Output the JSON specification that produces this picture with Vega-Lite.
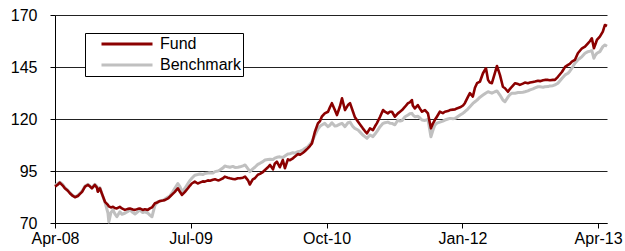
{
  "$schema": "https://vega.github.io/schema/vega-lite/v6.json",
  "width": 552,
  "height": 208,
  "autosize": "none",
  "padding": {"left": 55, "top": 15, "right": 18, "bottom": 28},
  "background": "white",
  "config": {
    "view": {"stroke": null},
    "font": "Liberation Sans"
  },
  "data": {"values": [
    {"d":"2008-04-01","Fund":87.5,"Benchmark":88},
    {"d":"2008-04-11","Fund":88.5,"Benchmark":89},
    {"d":"2008-04-17","Fund":89.4,"Benchmark":89.6},
    {"d":"2008-04-27","Fund":88,"Benchmark":88.5},
    {"d":"2008-05-04","Fund":86.7,"Benchmark":87},
    {"d":"2008-05-14","Fund":85.5,"Benchmark":85.8},
    {"d":"2008-05-21","Fund":84.3,"Benchmark":84.6},
    {"d":"2008-05-31","Fund":83,"Benchmark":83.2},
    {"d":"2008-06-07","Fund":82.4,"Benchmark":82.6},
    {"d":"2008-06-17","Fund":83,"Benchmark":83.3},
    {"d":"2008-06-24","Fund":84,"Benchmark":84.3},
    {"d":"2008-07-01","Fund":85,"Benchmark":85.3},
    {"d":"2008-07-11","Fund":87.5,"Benchmark":87.8},
    {"d":"2008-07-21","Fund":88.3,"Benchmark":88.6},
    {"d":"2008-07-28","Fund":87.5,"Benchmark":87.7},
    {"d":"2008-08-03","Fund":86.7,"Benchmark":87},
    {"d":"2008-08-13","Fund":88.3,"Benchmark":88.6},
    {"d":"2008-08-20","Fund":87,"Benchmark":87.5},
    {"d":"2008-08-23","Fund":85,"Benchmark":85.5},
    {"d":"2008-08-30","Fund":86.7,"Benchmark":87},
    {"d":"2008-09-06","Fund":84,"Benchmark":84},
    {"d":"2008-09-16","Fund":80.2,"Benchmark":80},
    {"d":"2008-09-26","Fund":78.7,"Benchmark":74.8},
    {"d":"2008-09-29","Fund":78,"Benchmark":70.5},
    {"d":"2008-10-06","Fund":77.5,"Benchmark":75},
    {"d":"2008-10-13","Fund":77.8,"Benchmark":76.3},
    {"d":"2008-10-19","Fund":77.2,"Benchmark":74.5},
    {"d":"2008-10-26","Fund":77,"Benchmark":73},
    {"d":"2008-11-05","Fund":77.8,"Benchmark":75.4},
    {"d":"2008-11-12","Fund":77,"Benchmark":74.2},
    {"d":"2008-11-22","Fund":76.3,"Benchmark":74.7},
    {"d":"2008-12-02","Fund":76.8,"Benchmark":75.5},
    {"d":"2008-12-09","Fund":77,"Benchmark":76.3},
    {"d":"2008-12-19","Fund":76.5,"Benchmark":75},
    {"d":"2008-12-26","Fund":76.3,"Benchmark":74.3},
    {"d":"2009-01-05","Fund":76.8,"Benchmark":75.5},
    {"d":"2009-01-11","Fund":77,"Benchmark":76.3},
    {"d":"2009-01-21","Fund":76.3,"Benchmark":75},
    {"d":"2009-01-28","Fund":76.6,"Benchmark":75.4},
    {"d":"2009-02-07","Fund":76.3,"Benchmark":74.8},
    {"d":"2009-02-14","Fund":77,"Benchmark":73.8},
    {"d":"2009-02-21","Fund":77.5,"Benchmark":73},
    {"d":"2009-03-03","Fund":79.5,"Benchmark":78.5},
    {"d":"2009-03-13","Fund":80,"Benchmark":80.3},
    {"d":"2009-03-20","Fund":80.6,"Benchmark":80.4},
    {"d":"2009-03-30","Fund":80.8,"Benchmark":81},
    {"d":"2009-04-05","Fund":81,"Benchmark":81.4},
    {"d":"2009-04-16","Fund":81.8,"Benchmark":82.5},
    {"d":"2009-04-22","Fund":82.6,"Benchmark":83},
    {"d":"2009-05-02","Fund":84,"Benchmark":85},
    {"d":"2009-05-09","Fund":85,"Benchmark":86.7},
    {"d":"2009-05-19","Fund":86.7,"Benchmark":89},
    {"d":"2009-05-26","Fund":85,"Benchmark":87.5},
    {"d":"2009-06-02","Fund":83.5,"Benchmark":85},
    {"d":"2009-06-12","Fund":85,"Benchmark":86.7},
    {"d":"2009-06-22","Fund":86.7,"Benchmark":89},
    {"d":"2009-06-29","Fund":88,"Benchmark":90.5},
    {"d":"2009-07-05","Fund":89,"Benchmark":91.5},
    {"d":"2009-07-15","Fund":89.9,"Benchmark":93},
    {"d":"2009-07-25","Fund":89,"Benchmark":93.3},
    {"d":"2009-08-01","Fund":89.4,"Benchmark":93.6},
    {"d":"2009-08-11","Fund":90,"Benchmark":93.3},
    {"d":"2009-08-18","Fund":89.9,"Benchmark":93.8},
    {"d":"2009-08-28","Fund":90.5,"Benchmark":94},
    {"d":"2009-09-04","Fund":90.3,"Benchmark":94.2},
    {"d":"2009-09-14","Fund":90.8,"Benchmark":94},
    {"d":"2009-09-21","Fund":91,"Benchmark":94.7},
    {"d":"2009-10-01","Fund":90.5,"Benchmark":95},
    {"d":"2009-10-07","Fund":90.7,"Benchmark":95.5},
    {"d":"2009-10-18","Fund":91.5,"Benchmark":96.5},
    {"d":"2009-10-24","Fund":92.3,"Benchmark":97.4},
    {"d":"2009-11-03","Fund":91.8,"Benchmark":97},
    {"d":"2009-11-10","Fund":91.5,"Benchmark":96.8},
    {"d":"2009-11-20","Fund":91.2,"Benchmark":97.2},
    {"d":"2009-11-27","Fund":91,"Benchmark":96.7},
    {"d":"2009-12-07","Fund":91.5,"Benchmark":96.8},
    {"d":"2009-12-14","Fund":91.5,"Benchmark":97},
    {"d":"2009-12-24","Fund":91.8,"Benchmark":97.5},
    {"d":"2009-12-31","Fund":92.3,"Benchmark":97.9},
    {"d":"2010-01-10","Fund":90.5,"Benchmark":96},
    {"d":"2010-01-16","Fund":88.5,"Benchmark":94.7},
    {"d":"2010-01-26","Fund":91,"Benchmark":96},
    {"d":"2010-02-02","Fund":91.5,"Benchmark":96.8},
    {"d":"2010-02-12","Fund":93.2,"Benchmark":98.2},
    {"d":"2010-02-19","Fund":93.6,"Benchmark":98.7},
    {"d":"2010-03-01","Fund":94.5,"Benchmark":99.5},
    {"d":"2010-03-08","Fund":95.5,"Benchmark":100.3},
    {"d":"2010-03-18","Fund":96.8,"Benchmark":100.5},
    {"d":"2010-03-25","Fund":97.9,"Benchmark":100.6},
    {"d":"2010-04-04","Fund":95.8,"Benchmark":100.5},
    {"d":"2010-04-10","Fund":98.5,"Benchmark":101.2},
    {"d":"2010-04-17","Fund":99.5,"Benchmark":101.6},
    {"d":"2010-04-27","Fund":96.8,"Benchmark":101.8},
    {"d":"2010-05-07","Fund":100.3,"Benchmark":101.5},
    {"d":"2010-05-14","Fund":96.3,"Benchmark":102.2},
    {"d":"2010-05-24","Fund":100.6,"Benchmark":103.2},
    {"d":"2010-05-31","Fund":100.2,"Benchmark":103.3},
    {"d":"2010-06-10","Fund":101.1,"Benchmark":103.8},
    {"d":"2010-06-17","Fund":102,"Benchmark":103.6},
    {"d":"2010-06-27","Fund":103.2,"Benchmark":104.3},
    {"d":"2010-07-04","Fund":102.8,"Benchmark":104.5},
    {"d":"2010-07-14","Fund":103.8,"Benchmark":105.1},
    {"d":"2010-07-20","Fund":104.5,"Benchmark":105.8},
    {"d":"2010-07-30","Fund":105.9,"Benchmark":106.7},
    {"d":"2010-08-06","Fund":107,"Benchmark":107.8},
    {"d":"2010-08-13","Fund":108.3,"Benchmark":109.1},
    {"d":"2010-08-23","Fund":113.9,"Benchmark":112.3},
    {"d":"2010-09-02","Fund":117.9,"Benchmark":115.1},
    {"d":"2010-09-09","Fund":119,"Benchmark":116.5},
    {"d":"2010-09-15","Fund":121.1,"Benchmark":117.1},
    {"d":"2010-09-25","Fund":122.7,"Benchmark":117.9},
    {"d":"2010-10-06","Fund":123.5,"Benchmark":116.3},
    {"d":"2010-10-12","Fund":125.5,"Benchmark":117},
    {"d":"2010-10-19","Fund":127.6,"Benchmark":118.2},
    {"d":"2010-10-29","Fund":124.3,"Benchmark":116.6},
    {"d":"2010-11-05","Fund":121.9,"Benchmark":116.8},
    {"d":"2010-11-15","Fund":126,"Benchmark":117.5},
    {"d":"2010-11-22","Fund":130,"Benchmark":117.9},
    {"d":"2010-12-02","Fund":124.3,"Benchmark":116.3},
    {"d":"2010-12-12","Fund":126.7,"Benchmark":118.2},
    {"d":"2010-12-19","Fund":127.6,"Benchmark":118.5},
    {"d":"2010-12-29","Fund":123.5,"Benchmark":116.3},
    {"d":"2011-01-04","Fund":121,"Benchmark":115.5},
    {"d":"2011-01-15","Fund":118.7,"Benchmark":114.7},
    {"d":"2011-01-21","Fund":117.5,"Benchmark":113.8},
    {"d":"2011-01-31","Fund":115.5,"Benchmark":112.3},
    {"d":"2011-02-07","Fund":114.2,"Benchmark":111.5},
    {"d":"2011-02-14","Fund":113.1,"Benchmark":110.7},
    {"d":"2011-02-24","Fund":115.5,"Benchmark":112.3},
    {"d":"2011-03-06","Fund":114.7,"Benchmark":111.5},
    {"d":"2011-03-13","Fund":116.5,"Benchmark":112.8},
    {"d":"2011-03-19","Fund":117.9,"Benchmark":113.9},
    {"d":"2011-03-30","Fund":121.1,"Benchmark":116.3},
    {"d":"2011-04-09","Fund":124.3,"Benchmark":117.9},
    {"d":"2011-04-15","Fund":123.5,"Benchmark":118.2},
    {"d":"2011-04-25","Fund":122.7,"Benchmark":118.5},
    {"d":"2011-05-02","Fund":123.5,"Benchmark":118},
    {"d":"2011-05-09","Fund":123.5,"Benchmark":117.9},
    {"d":"2011-05-19","Fund":121.1,"Benchmark":117.2},
    {"d":"2011-05-29","Fund":122.7,"Benchmark":119.5},
    {"d":"2011-06-05","Fund":123.5,"Benchmark":119},
    {"d":"2011-06-12","Fund":124.3,"Benchmark":119.3},
    {"d":"2011-06-22","Fund":125.9,"Benchmark":121.1},
    {"d":"2011-07-02","Fund":127.6,"Benchmark":121.9},
    {"d":"2011-07-08","Fund":128,"Benchmark":122.5},
    {"d":"2011-07-15","Fund":129.1,"Benchmark":122.7},
    {"d":"2011-07-18","Fund":126.5,"Benchmark":122},
    {"d":"2011-07-25","Fund":125.1,"Benchmark":121.1},
    {"d":"2011-08-04","Fund":126.7,"Benchmark":121.3},
    {"d":"2011-08-11","Fund":125,"Benchmark":120.5},
    {"d":"2011-08-18","Fund":123.5,"Benchmark":119.5},
    {"d":"2011-08-28","Fund":124.3,"Benchmark":119.3},
    {"d":"2011-09-07","Fund":122.7,"Benchmark":119.8},
    {"d":"2011-09-17","Fund":115.5,"Benchmark":111.5},
    {"d":"2011-09-24","Fund":117.9,"Benchmark":114.7},
    {"d":"2011-09-30","Fund":119.5,"Benchmark":117},
    {"d":"2011-10-07","Fund":121.1,"Benchmark":118},
    {"d":"2011-10-17","Fund":123.5,"Benchmark":118.5},
    {"d":"2011-10-27","Fund":122.8,"Benchmark":119},
    {"d":"2011-11-03","Fund":123.5,"Benchmark":119.5},
    {"d":"2011-11-13","Fund":123.8,"Benchmark":120},
    {"d":"2011-11-20","Fund":124.3,"Benchmark":120.3},
    {"d":"2011-11-30","Fund":124.5,"Benchmark":120.1},
    {"d":"2011-12-07","Fund":124.6,"Benchmark":120.3},
    {"d":"2011-12-13","Fund":125.1,"Benchmark":120.8},
    {"d":"2011-12-24","Fund":125.6,"Benchmark":121.9},
    {"d":"2012-01-03","Fund":126.5,"Benchmark":122.8},
    {"d":"2012-01-09","Fund":127.6,"Benchmark":123.5},
    {"d":"2012-01-19","Fund":130.5,"Benchmark":124.8},
    {"d":"2012-01-26","Fund":132.4,"Benchmark":125.9},
    {"d":"2012-02-05","Fund":130.8,"Benchmark":127.5},
    {"d":"2012-02-12","Fund":135,"Benchmark":128.3},
    {"d":"2012-02-19","Fund":137.2,"Benchmark":129.1},
    {"d":"2012-02-29","Fund":138,"Benchmark":130.5},
    {"d":"2012-03-10","Fund":142,"Benchmark":131.5},
    {"d":"2012-03-20","Fund":144.4,"Benchmark":132.5},
    {"d":"2012-03-27","Fund":138.8,"Benchmark":133.1},
    {"d":"2012-04-02","Fund":137.5,"Benchmark":132.8},
    {"d":"2012-04-09","Fund":137.2,"Benchmark":132.4},
    {"d":"2012-04-19","Fund":142,"Benchmark":133.1},
    {"d":"2012-04-26","Fund":145.5,"Benchmark":133.5},
    {"d":"2012-05-06","Fund":141.2,"Benchmark":131.5},
    {"d":"2012-05-16","Fund":135.5,"Benchmark":129.1},
    {"d":"2012-05-23","Fund":134.8,"Benchmark":128.3},
    {"d":"2012-06-02","Fund":133.1,"Benchmark":130.5},
    {"d":"2012-06-09","Fund":134.5,"Benchmark":131.8},
    {"d":"2012-06-15","Fund":135.5,"Benchmark":132.4},
    {"d":"2012-06-26","Fund":137.2,"Benchmark":132.4},
    {"d":"2012-07-06","Fund":136.8,"Benchmark":132.7},
    {"d":"2012-07-12","Fund":136.4,"Benchmark":132.7},
    {"d":"2012-07-22","Fund":137,"Benchmark":132.9},
    {"d":"2012-07-29","Fund":137.5,"Benchmark":133.1},
    {"d":"2012-08-08","Fund":137.2,"Benchmark":133.5},
    {"d":"2012-08-15","Fund":137.5,"Benchmark":134},
    {"d":"2012-08-25","Fund":137.8,"Benchmark":134.5},
    {"d":"2012-09-01","Fund":138,"Benchmark":135},
    {"d":"2012-09-11","Fund":138.4,"Benchmark":135.5},
    {"d":"2012-09-18","Fund":138.2,"Benchmark":135.5},
    {"d":"2012-09-28","Fund":138.6,"Benchmark":135.3},
    {"d":"2012-10-04","Fund":138.8,"Benchmark":135.5},
    {"d":"2012-10-15","Fund":138.8,"Benchmark":135.6},
    {"d":"2012-10-21","Fund":138.6,"Benchmark":135.9},
    {"d":"2012-10-31","Fund":138.8,"Benchmark":136},
    {"d":"2012-11-07","Fund":138.8,"Benchmark":136.4},
    {"d":"2012-11-17","Fund":140.3,"Benchmark":137.2},
    {"d":"2012-11-24","Fund":141.5,"Benchmark":138.4},
    {"d":"2012-12-01","Fund":142.7,"Benchmark":139.6},
    {"d":"2012-12-11","Fund":145.1,"Benchmark":141.2},
    {"d":"2012-12-21","Fund":146,"Benchmark":142},
    {"d":"2012-12-27","Fund":146.5,"Benchmark":143},
    {"d":"2013-01-03","Fund":147.6,"Benchmark":144.4},
    {"d":"2013-01-13","Fund":148.4,"Benchmark":146.8},
    {"d":"2013-01-23","Fund":151.6,"Benchmark":148.4},
    {"d":"2013-01-30","Fund":152.8,"Benchmark":149.2},
    {"d":"2013-02-06","Fund":154,"Benchmark":150},
    {"d":"2013-02-16","Fund":154.8,"Benchmark":151.6},
    {"d":"2013-02-26","Fund":156.4,"Benchmark":152.4},
    {"d":"2013-03-05","Fund":157.5,"Benchmark":152.6},
    {"d":"2013-03-11","Fund":158.8,"Benchmark":152.9},
    {"d":"2013-03-18","Fund":154,"Benchmark":149.2},
    {"d":"2013-03-22","Fund":155.5,"Benchmark":150.5},
    {"d":"2013-03-28","Fund":158,"Benchmark":151.6},
    {"d":"2013-04-07","Fund":159.6,"Benchmark":152.4},
    {"d":"2013-04-17","Fund":162,"Benchmark":154.8},
    {"d":"2013-04-24","Fund":165.2,"Benchmark":155.6},
    {"d":"2013-05-01","Fund":164.7,"Benchmark":155}
  ]},
  "encoding": {
    "x": {
      "field": "d", "type": "temporal", "title": null,
      "scale": {"type": "utc", "domain": [{"year": 2008, "month": 4, "date": 1, "utc": true}, {"year": 2013, "month": 5, "date": 1, "utc": true}]},
      "axis": {
        "values": [
          {"year": 2008, "month": 4, "date": 1, "utc": true},
          {"year": 2009, "month": 7, "date": 1, "utc": true},
          {"year": 2010, "month": 10, "date": 1, "utc": true},
          {"year": 2012, "month": 1, "date": 1, "utc": true},
          {"year": 2013, "month": 4, "date": 1, "utc": true}
        ],
        "format": "%b-%y",
        "grid": false,
        "domainColor": "black", "domainWidth": 1,
        "tickColor": "black", "tickSize": 5, "tickWidth": 1,
        "labelFont": "Liberation Sans", "labelFontSize": 16, "labelColor": "black",
        "labelPadding": 2, "labelFlush": false, "labelOverlap": false
      }
    }
  },
  "layer": [
    {
      "mark": {"type": "line", "strokeWidth": 3, "strokeJoin": "round"},
      "encoding": {
        "y": {
          "field": "Benchmark", "type": "quantitative", "title": null,
          "scale": {"domain": [70, 170], "nice": false, "zero": false},
          "axis": {
            "values": [70, 95, 120, 145, 170],
            "grid": true, "gridColor": "#222222", "gridWidth": 1, "gridOpacity": 1,
            "domainColor": "black", "domainWidth": 1,
            "tickColor": "black", "tickSize": 5, "tickWidth": 1,
            "labelFont": "Liberation Sans", "labelFontSize": 16, "labelColor": "black",
            "labelPadding": 13
          }
        },
        "color": {
          "datum": "Benchmark",
          "scale": {"domain": ["Fund", "Benchmark"], "range": ["#8B0000", "#C0C0C0"]},
          "legend": {
            "title": null,
            "orient": "none",
            "legendX": 30,
            "legendY": 18,
            "direction": "vertical",
            "symbolType": "stroke",
            "symbolSize": 2601,
            "symbolStrokeWidth": 3,
            "symbolOffset": 13,
            "clipHeight": 18,
            "labelFont": "Liberation Sans",
            "labelFontSize": 16,
            "labelColor": "black",
            "labelOffset": 6,
            "labelExpr": "datum.label + '  '",
            "rowPadding": 3,
            "padding": 2,
            "strokeColor": "black",
            "fillColor": "white",
            "cornerRadius": 0
          }
        }
      }
    },
    {
      "mark": {"type": "line", "strokeWidth": 2.6, "strokeJoin": "round"},
      "encoding": {
        "y": {"field": "Fund", "type": "quantitative"},
        "color": {"datum": "Fund"}
      }
    }
  ]
}
